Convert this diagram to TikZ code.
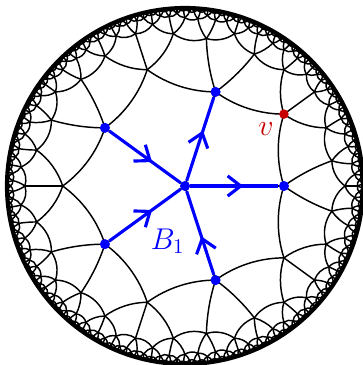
\documentclass[tikz,border=0pt]{standalone}
\usetikzlibrary{arrows.meta}
\usetikzlibrary{decorations.markings}
\usetikzlibrary{calc,positioning}

\definecolor{vred}{RGB}{200,0,0}

% {4,5} tiling in the Poincare disk
\def\diskr{3}      % disk radius in cm
\def\cutoff{0.99}  % vertices further out are not grown
\edef\tcosh{\fpeval{cos(pi/4)/sin(pi/5)}}
\edef\tfirst{\fpeval{sqrt(\tcosh*\tcosh-1)/\tcosh}}        % first ring
\edef\tdiag{\fpeval{sqrt(1/tand(36)^2-1)*tand(36)}}         % opposite corner

\newcount\qhead
\newcount\qtail

\def\vkey#1#2{\fpeval{round(#1*10000)+100000}:\fpeval{round(#2*10000)+100000}}

\def\qpush#1#2#3#4{%
  \global\advance\qtail by 1
  \expandafter\xdef\csname q@\the\qtail\endcsname{{#1}{#2}{#3}{#4}}}

% geodesic from (#1,#2) to (#3,#4)
\def\hypedge#1#2#3#4{%
  \edef\bendang{\fpeval{round(atand(#1*#4-#2*#3,1-#1*#3-#2*#4),3)}}%
  \edef\lsn{\fpeval{round(1.7029/(1+cosd(\bendang)),4)}}%
  \edef\tilecmd{\noexpand\draw[tile] (\fpeval{round(#1*\diskr,4)},\fpeval{round(#2*\diskr,4)})
    to[bend left=\bendang,looseness=\lsn] (\fpeval{round(#3*\diskr,4)},\fpeval{round(#4*\diskr,4)});}%
  \tilecmd}

% k-th neighbour of the current vertex
\def\growedge#1{%
  \edef\hgam{\fpeval{\dirang+72*#1}}%
  \edef\hvx{\fpeval{\tfirst*cosd(\hgam)}}%
  \edef\hvy{\fpeval{\tfirst*sind(\hgam)}}%
  \edef\hca{\fpeval{\hvx+\zx}}%
  \edef\hcb{\fpeval{\hvy+\zy}}%
  \edef\hcc{\fpeval{1+\zx*\hvx+\zy*\hvy}}%
  \edef\hcd{\fpeval{\zx*\hvy-\zy*\hvx}}%
  \edef\nx{\fpeval{(\hca*\hcc+\hcb*\hcd)/(\hcc*\hcc+\hcd*\hcd)}}%
  \edef\ny{\fpeval{(\hcb*\hcc-\hca*\hcd)/(\hcc*\hcc+\hcd*\hcd)}}%
  \edef\nkey{\vkey\nx\ny}%
  \ifcsname done@\nkey\endcsname\else
    \hypedge\zx\zy\nx\ny
  \fi
  \ifcsname seen@\nkey\endcsname\else
    \expandafter\gdef\csname seen@\nkey\endcsname{}%
    \qpush\nx\ny\zx\zy
  \fi}

% vertex (#1,#2) reached from (#3,#4)
\def\growvertex#1#2#3#4{%
  \ifnum\fpeval{#1*#1+#2*#2<\cutoff*\cutoff}=1
    \edef\zx{#1}\edef\zy{#2}%
    \edef\dirang{\fpeval{atand(#4-#2,#3-#1)-atand(#2*#3-#1*#4,1-#1*#3-#2*#4)}}%
    \growedge1\growedge2\growedge3\growedge4%
    \expandafter\gdef\csname done@\vkey{#1}{#2}\endcsname{}%
  \fi}

\def\runqueue{%
  \ifnum\qhead<\qtail
    \global\advance\qhead by 1
    \expandafter\expandafter\expandafter\growvertex\csname q@\the\qhead\endcsname
    \expandafter\runqueue
  \fi}

\begin{document}
\begin{tikzpicture}[
        tile/.style={black, line width=0.7pt},
        bdot/.style={circle, fill=blue, inner sep=0pt, minimum size=1.7mm},
        vdot/.style={circle, fill=vred, inner sep=0pt, minimum size=1.6mm},
        bedge/.style={blue, line width=1.5pt},
        midarrow/.style={postaction={decorate},
            decoration={markings,
            mark=at position #1 with {\arrow{Straight Barb[length=2.2mm,width=3.4mm]}}}},
        midarrow/.default=0.6]
    \useasboundingbox (-3.118,-3.017) rectangle (3.0,3.135);

    %grow the tiling from the centre
    \expandafter\gdef\csname seen@\vkey{0}{0}\endcsname{}
    \expandafter\gdef\csname seen@\vkey{\tfirst}{0}\endcsname{}
    \qpush{\tfirst}{0}{0}{0}
    \hypedge{0}{0}{\tfirst}{0}
    \growvertex{0}{0}{\tfirst}{0}
    \runqueue

    \draw[line width=2pt] (0,0) circle (\diskr);

    %the ball B_1
    \node[bdot] (c) at (0,0) {};
    \foreach \k in {0,...,4} {
        \node[bdot] (n\k) at (72*\k:\tfirst*\diskr) {};
    }
    \draw[bedge, midarrow] (c) -- (n0);
    \draw[bedge, midarrow] (c) -- (n1);
    \draw[bedge, midarrow] (n2) -- (c);
    \draw[bedge, midarrow] (n3) -- (c);
    \draw[bedge, midarrow=0.46] (n4) -- (c);
    \node[text=blue, font=\Large] (blab) at (-0.29,-0.93) {$B_1$};

    \node[vdot] (v) at (36:\tdiag*\diskr) {};
    \node[text=vred, font=\Large] (vlab) at ($(v)+(-0.3,-0.25)$) {$v$};
\end{tikzpicture}
\end{document}
